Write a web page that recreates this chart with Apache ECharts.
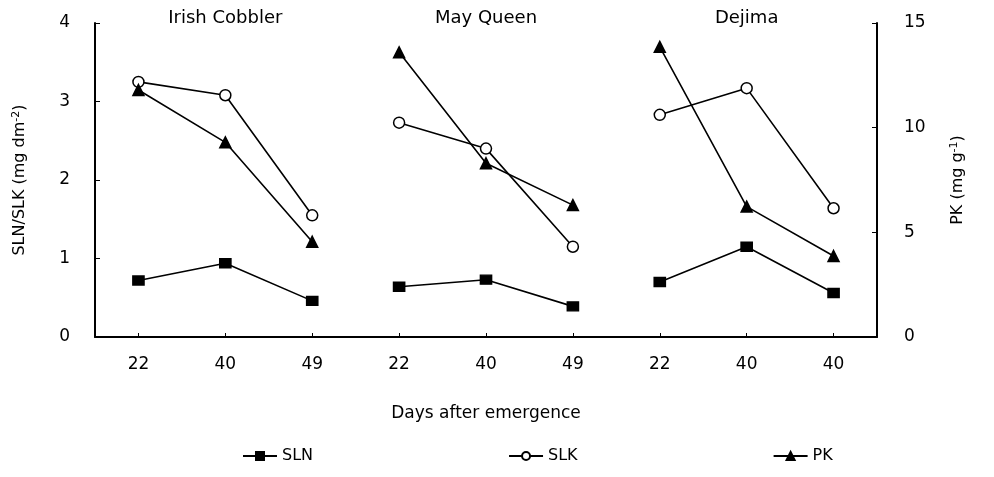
<!DOCTYPE html>
<html>
<head>
<meta charset="utf-8">
<script src="https://cdn.jsdelivr.net/npm/echarts@6/dist/echarts.min.js"></script>
<style>html,body{margin:0;padding:0;background:#fff;}#c{width:994px;height:477px;}</style>
</head>
<body>
<div id="c"></div>
<script>
const categories = ['22','40','49','22','40','49','22','40','40'];
const panels = ['Irish Cobbler','May Queen','Dejima'];
const sln = [0.72,0.94,0.46, 0.64,0.73,0.39, 0.70,1.15,0.56];
const slk = [3.25,3.08,1.55, 2.73,2.40,1.15, 2.83,3.17,1.64];
const pk  = [11.8,9.3,4.55, 13.6,8.3,6.3, 13.86,6.23,3.87];
const leftTicks = [0,1,2,3,4];
const rightTicks = [0,5,10,15];

const font = '"DejaVu Sans", Verdana, sans-serif';
function panelData(arr, p){
  return arr.map((v,i)=> (Math.floor(i/3)===p ? v : '-'));
}
const defs = [
  {name:'SLN', arr:sln, symbol:'rect', size:[11,9], fill:'#000', y:0},
  {name:'SLK', arr:slk, symbol:'circle', size:11, fill:'#fff', y:0},
  {name:'PK',  arr:pk,  symbol:'triangle', size:11, fill:'#000', y:1}
];
const series = [];
defs.forEach(d=>{
  for(let p=0;p<3;p++){
    series.push({
      name:d.name, type:'line', yAxisIndex:d.y, xAxisIndex:0,
      data: panelData(d.arr,p),
      symbol:d.symbol, symbolSize:d.size, showAllSymbol:true,
      lineStyle:{color:'#000', width:1.6},
      itemStyle:{color:d.fill, borderColor:'#000', borderWidth:1.5},
      emphasis:{disabled:true}, animation:false
    });
  }
});
const chart = echarts.init(document.getElementById('c'));
chart.setOption({
  animation:false,
  grid:{left:95, right:117, top:23, bottom:140},
  legend:{
    bottom:8, left:237, itemGap:195, itemWidth:34, itemHeight:10,
    data:['SLN','SLK','PK'],
    textStyle:{fontFamily:font, fontSize:16, color:'#000'}
  },
  xAxis:[{
    type:'category', data:categories, position:'bottom',
    name:'Days after emergence', nameLocation:'middle', nameGap:68,
    nameTextStyle:{fontFamily:font, fontSize:17, color:'#000'},
    axisLine:{lineStyle:{color:'#000', width:2}},
    axisTick:{show:true, inside:true, length:4, alignWithLabel:true, lineStyle:{color:'#000'}},
    axisLabel:{interval:0, margin:19, fontFamily:font, fontSize:17, color:'#000'},
    splitLine:{show:false}
  },{
    type:'category', data:categories, position:'top',
    axisLine:{show:false}, axisTick:{show:false},
    axisLabel:{interval:0, margin:-4, fontFamily:font, fontSize:18, color:'#000',
      formatter:(v,i)=> (i%3===1 ? panels[Math.floor(i/3)] : '')},
    splitLine:{show:false}
  }],
  yAxis:[{
    type:'value', min:leftTicks[0], max:leftTicks[leftTicks.length-1], interval:1, position:'left',
    name:'{a|SLN/SLK (mg dm}{s|-2}{a|)}', nameLocation:'middle', nameGap:66, nameRotate:90,
    nameTextStyle:{rich:{a:{fontFamily:font, fontSize:16, color:'#000'}, s:{fontFamily:font, fontSize:11, color:'#000', verticalAlign:'top', padding:[0,0,7,0]}}},
    axisLine:{show:true, lineStyle:{color:'#000', width:2}},
    axisTick:{show:true, inside:true, length:5, lineStyle:{color:'#000'}},
    axisLabel:{margin:25, fontFamily:font, fontSize:17, color:'#000'},
    splitLine:{show:false}
  },{
    type:'value', min:rightTicks[0], max:rightTicks[rightTicks.length-1], interval:5, position:'right',
    name:'{a|PK (mg g}{s|-1}{a|)}', nameLocation:'middle', nameGap:72, nameRotate:90,
    nameTextStyle:{rich:{a:{fontFamily:font, fontSize:16, color:'#000'}, s:{fontFamily:font, fontSize:11, color:'#000', verticalAlign:'top', padding:[0,0,7,0]}}},
    axisLine:{show:true, lineStyle:{color:'#000', width:2}},
    axisTick:{show:true, inside:true, length:5, lineStyle:{color:'#000'}},
    axisLabel:{margin:27, fontFamily:font, fontSize:17, color:'#000'},
    splitLine:{show:false}
  }],
  series:series
});
</script>
</body>
</html>
